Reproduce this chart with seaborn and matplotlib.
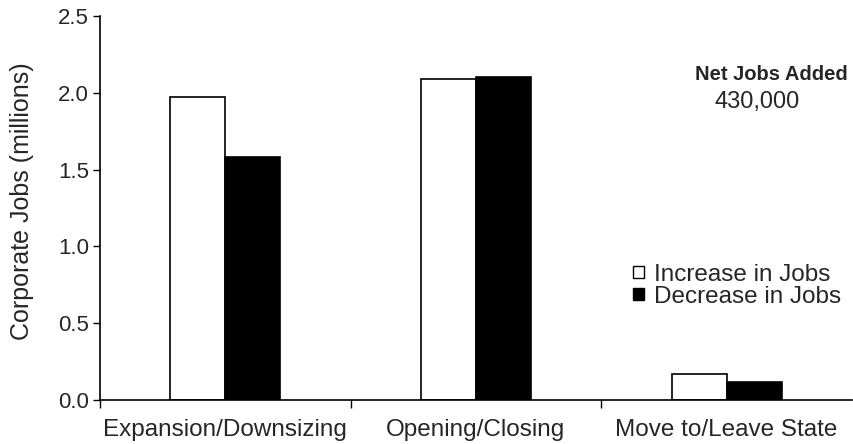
import matplotlib
matplotlib.use("Agg")
import matplotlib.pyplot as plt
import seaborn as sns
import pandas as pd
from matplotlib.patches import Patch
from matplotlib.ticker import FixedLocator

categories = ["Expansion/Downsizing", "Opening/Closing", "Move to/Leave State"]
increase = [1.97, 2.09, 0.17]
decrease = [1.58, 2.10, 0.12]
series = ["Increase in Jobs", "Decrease in Jobs"]
y_ticks = [0.0, 0.5, 1.0, 1.5, 2.0, 2.5]

df = pd.DataFrame({
    "category": categories * 2,
    "jobs": increase + decrease,
    "series": [series[0]] * 3 + [series[1]] * 3,
})

sns.set_theme(style="white")
plt.rcParams["font.family"] = ["Liberation Sans", "DejaVu Sans"]

FS = 17.5
W, H = 854, 444
fig = plt.figure(figsize=(W / 100, H / 100), dpi=100)
ax = fig.add_axes([100 / W, 1 - 400 / H, 752 / W, 384 / H])

sns.barplot(data=df, x="category", y="jobs", hue="series", order=categories,
            hue_order=series, palette=["white", "black"], width=0.44,
            edgecolor="black", linewidth=1.2, saturation=1, ax=ax, legend=False)

ax.set_xlim(-0.5, 2.5)
ax.set_ylim(0, 2.5)
ax.set_yticks(y_ticks)
ax.set_yticklabels([f"{t:.1f}" for t in y_ticks], fontsize=16)
ax.set_xticks(range(3))
ax.set_xticklabels(categories, fontsize=FS)
ax.xaxis.set_minor_locator(FixedLocator([-0.5, 0.5, 1.5]))
ax.tick_params(axis="x", which="major", length=0, pad=14)
ax.tick_params(axis="x", which="minor", length=6, width=1, color="black", direction="out", bottom=True)
ax.tick_params(axis="y", length=5, width=1, color="black", direction="out", left=True, pad=3)
ax.set_xlabel("")
ax.set_ylabel("Corporate Jobs (millions)", fontsize=18)
ax.yaxis.set_label_coords(-0.088, 0.518)

for side in ["top", "right"]:
    ax.spines[side].set_visible(False)
for side in ["left", "bottom"]:
    ax.spines[side].set_color("black")
    ax.spines[side].set_linewidth(1.2)

fig.text(848 / W, 1 - 75 / H, "Net Jobs Added", ha="right", va="center",
         fontsize=14.5, fontweight="bold")
fig.text(757 / W, 1 - 102 / H, "430,000", ha="center", va="center", fontsize=17)

handles = [Patch(facecolor="white", edgecolor="black", linewidth=1),
           Patch(facecolor="black", edgecolor="black", linewidth=1)]
fig.legend(handles, series, loc="center left", bbox_to_anchor=(633 / W, 1 - 286 / H),
           frameon=False, fontsize=FS, handlelength=0.45, handleheight=0.4,
           handletextpad=0.4, labelspacing=0.0, borderaxespad=0, borderpad=0)

fig.savefig("out.png", dpi=100)
